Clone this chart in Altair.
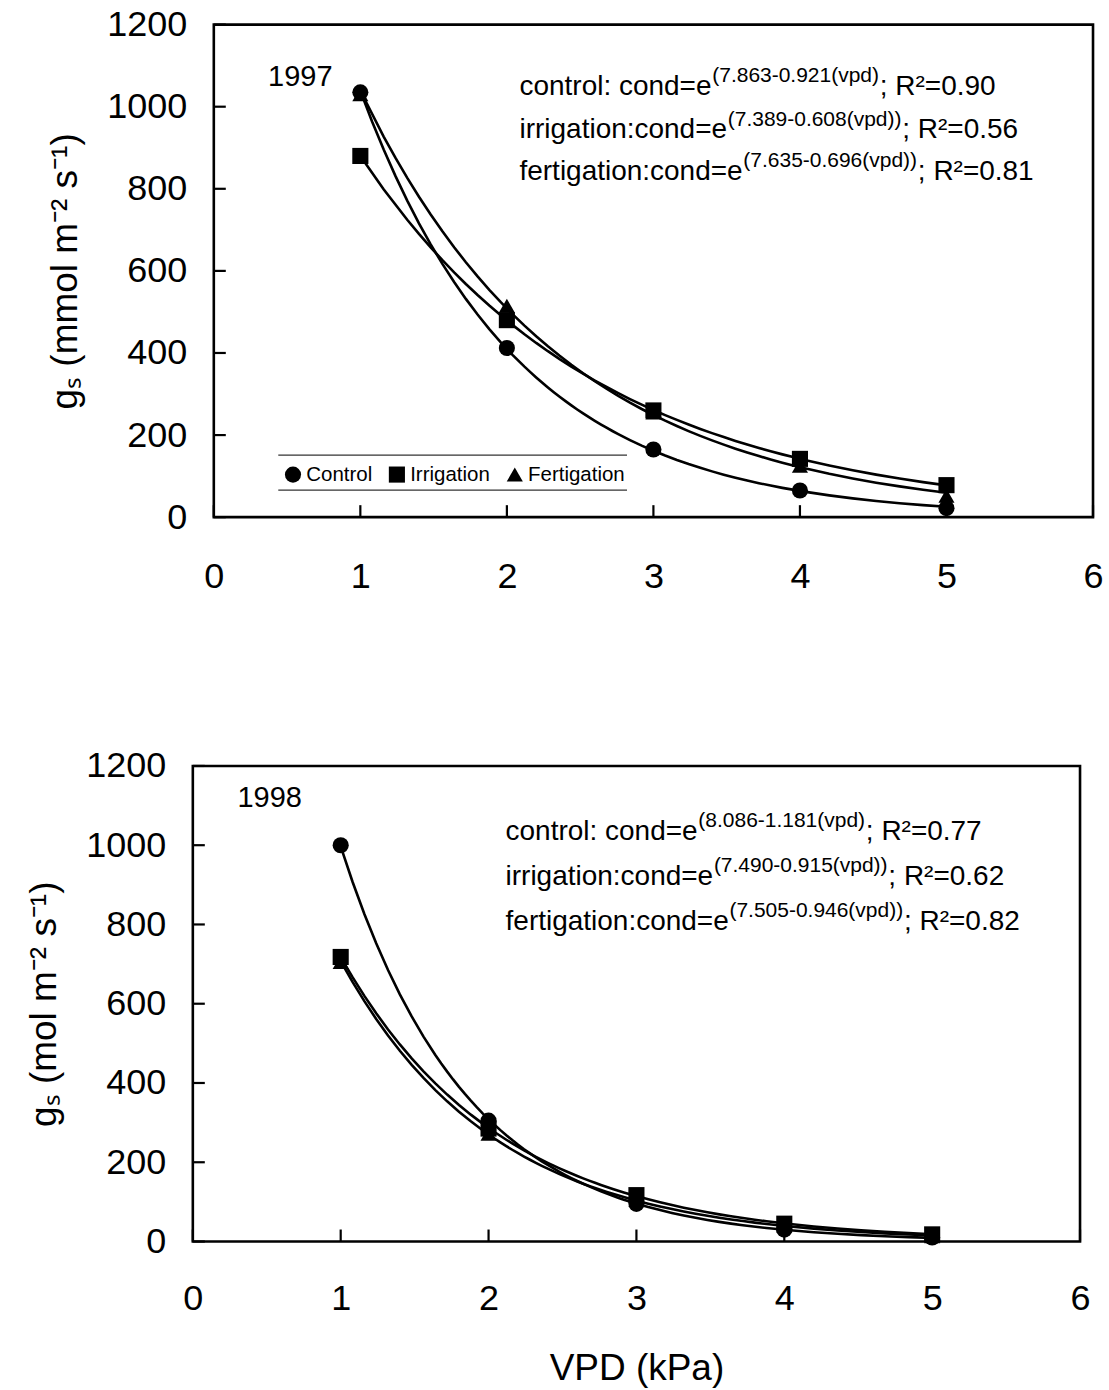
import altair as alt
import pandas as pd

# ---------------- data ----------------
VPD = [1, 2, 3, 4, 5]
TREATMENTS = ["Control", "Irrigation", "Fertigation"]
SHAPES = ["circle", "square", "triangle-up"]

GS_1997_CONTROL = [1035, 412, 165, 65, 22]
GS_1997_IRRIGATION = [880, 480, 260, 142, 78]
GS_1997_FERTIGATION = [1030, 515, 255, 125, 52]

GS_1998_CONTROL = [1000, 305, 95, 30, 10]
GS_1998_IRRIGATION = [718, 285, 117, 45, 18]
GS_1998_FERTIGATION = [705, 272, 105, 40, 13]

X_TICKS = [0, 1, 2, 3, 4, 5, 6]
Y_TICKS = [0, 200, 400, 600, 800, 1000, 1200]

EQ_1997 = [
    ("control: cond=e", "(7.863-0.921(vpd)", "; R\u00b2=0.90"),
    ("irrigation:cond=e", "(7.389-0.608(vpd))", "; R\u00b2=0.56"),
    ("fertigation:cond=e", "(7.635-0.696(vpd))", "; R\u00b2=0.81"),
]
EQ_1998 = [
    ("control: cond=e", "(8.086-1.181(vpd)", "; R\u00b2=0.77"),
    ("irrigation:cond=e", "(7.490-0.915(vpd))", "; R\u00b2=0.62"),
    ("fertigation:cond=e", "(7.505-0.946(vpd))", "; R\u00b2=0.82"),
]

FONT = "Liberation Sans"
MAIN_FS = 28
SUP_FS = 21

# Arial / Liberation Sans advance widths (per 1000 em)
AW = {' ': 278, ':': 278, ';': 278, '=': 584, '(': 333, ')': 333, '.': 278, '-': 333,
      '\u00b2': 333, 'R': 722, 'a': 556, 'c': 500, 'd': 556, 'e': 556, 'f': 278, 'g': 556,
      'i': 222, 'l': 222, 'n': 556, 'o': 556, 'p': 556, 'r': 333, 't': 278, 'v': 500}


def text_width(s, fs):
    return sum(AW.get(ch, 556) for ch in s) * fs / 1000.0


def series_frame(ctrl, irr, fert):
    rows = []
    for name, vals in zip(TREATMENTS, [ctrl, irr, fert]):
        for x, y in zip(VPD, vals):
            rows.append({"vpd": x, "gs": y, "treatment": name})
    return pd.DataFrame(rows)


def equation_frame(eqs, x0, ys, px_per_unit):
    rows = []
    for (a, b, c), y in zip(eqs, ys):
        wa = text_width(a, MAIN_FS) / px_per_unit
        wb = text_width(b, SUP_FS) / px_per_unit
        rows.append({"vpd": x0, "gs": y, "t": a, "kind": "main"})
        rows.append({"vpd": x0 + wa + 0.005, "gs": y, "t": b, "kind": "sup"})
        rows.append({"vpd": x0 + wa + wb + 0.01, "gs": y, "t": c, "kind": "main"})
    return pd.DataFrame(rows)


def panel(df, eqs, eq_x0, eq_ys, year, year_xy, frame_width, height, ytitle,
          xtitle, x_label_pad, show_legend, left_shift_px=0):
    ppu = frame_width / 6.0
    x_min = -left_shift_px / ppu
    width = frame_width + left_shift_px
    xs = alt.Scale(domain=[x_min, 6], nice=False, zero=False)
    ys = alt.Scale(domain=[0, 1200], nice=False, zero=False)
    xaxis = alt.Axis(values=X_TICKS, format="d", labelPadding=x_label_pad, labelFlush=False,
                     labelOverlap=False, title=xtitle, titlePadding=34)
    yaxis = alt.Axis(values=Y_TICKS, format="d", labelPadding=27 - left_shift_px,
                     labelFlush=False, labelOverlap=False, title=ytitle, titlePadding=22)

    base = alt.Chart(df)
    lines = base.transform_regression(
        "vpd", "gs", method="exp", groupby=["treatment"]
    ).mark_line(color="black", strokeWidth=2.6).encode(
        x=alt.X("vpd:Q", scale=xs, axis=xaxis),
        y=alt.Y("gs:Q", scale=ys, axis=yaxis),
        detail="treatment:N",
    )
    if show_legend:
        legend = alt.Legend(
            title=None, orient="none", legendX=90 + left_shift_px - 21, legendY=440,
            direction="horizontal",
            labelFont=FONT, labelFontSize=20.5, labelColor="black", symbolSize=260,
            symbolFillColor="black", symbolStrokeColor="black", symbolStrokeWidth=0,
            labelOffset=3, columnPadding=14, padding=0, symbolOpacity=1,
        )
    else:
        legend = None
    points = base.mark_point(filled=True, color="black", size=260, opacity=1).encode(
        x=alt.X("vpd:Q", scale=xs),
        y=alt.Y("gs:Q", scale=ys),
        shape=alt.Shape("treatment:N", scale=alt.Scale(domain=TREATMENTS, range=SHAPES),
                        legend=legend),
    )

    one = pd.DataFrame({"a": [0]})
    frame = alt.Chart(one).mark_rect(fillOpacity=0, stroke="black", strokeWidth=2.6).encode(
        x=alt.X(datum=0, scale=xs), x2=alt.X2(datum=6),
        y=alt.Y(datum=0, scale=ys), y2=alt.Y2(datum=1200))

    yt = alt.Chart(pd.DataFrame({"gs": Y_TICKS})).mark_rule(
        color="black", strokeWidth=2.2).encode(
        y=alt.Y("gs:Q", scale=ys), x=alt.X(datum=0, scale=xs), x2=alt.X2(datum=12 / ppu))
    xt = alt.Chart(pd.DataFrame({"vpd": X_TICKS})).mark_rule(
        color="black", strokeWidth=2.2).encode(
        x=alt.X("vpd:Q", scale=xs), y=alt.value(height), y2=alt.value(height - 12))

    eqdf = equation_frame(eqs, eq_x0, eq_ys, ppu)
    eq_main = alt.Chart(eqdf[eqdf.kind == "main"]).mark_text(
        align="left", baseline="middle", font=FONT, fontSize=MAIN_FS, color="black").encode(
        x=alt.X("vpd:Q", scale=xs), y=alt.Y("gs:Q", scale=ys), text="t:N")
    eq_sup = alt.Chart(eqdf[eqdf.kind == "sup"]).mark_text(
        align="left", baseline="middle", font=FONT, fontSize=SUP_FS, color="black",
        dy=-11).encode(
        x=alt.X("vpd:Q", scale=xs), y=alt.Y("gs:Q", scale=ys), text="t:N")

    yr = alt.Chart(pd.DataFrame({"vpd": [year_xy[0]], "gs": [year_xy[1]], "t": [year]})).mark_text(
        align="center", baseline="middle", font=FONT, fontSize=29, color="black").encode(
        x=alt.X("vpd:Q", scale=xs), y=alt.Y("gs:Q", scale=ys), text="t:N")

    layers = [frame, lines, points, yt, xt, eq_main, eq_sup, yr]

    if show_legend:
        # thin lines above and below the legend box
        lg = pd.DataFrame({"vpd": [0.44, 0.44], "vpd2": [2.82, 2.82], "gs": [151, 66]})
        lrules = alt.Chart(lg).mark_rule(color="#333333", strokeWidth=1.3).encode(
            x=alt.X("vpd:Q", scale=xs), x2="vpd2:Q", y=alt.Y("gs:Q", scale=ys))
        layers.append(lrules)

    return alt.layer(*layers).properties(width=width, height=height)


top = panel(series_frame(GS_1997_CONTROL, GS_1997_IRRIGATION, GS_1997_FERTIGATION),
            EQ_1997, 2.086, [1047, 942, 840], "1997", (0.59, 1073), 880, 493,
            "g\u209b (mmol m\u207b\u00b2 s\u207b\u00b9)", None, 42, True, left_shift_px=21)
bottom = panel(series_frame(GS_1998_CONTROL, GS_1998_IRRIGATION, GS_1998_FERTIGATION),
               EQ_1998, 2.115, [1034, 920, 807], "1998", (0.52, 1118), 888, 476,
               "g\u209b (mol m\u207b\u00b2 s\u207b\u00b9)", "VPD (kPa)", 40, False)

chart = alt.vconcat(top, bottom, spacing=152).resolve_scale(
    shape="independent").resolve_legend(shape="independent").properties(
    padding={"left": 25, "top": 5, "right": 5, "bottom": 5}, background="white"
).configure_view(stroke="transparent").configure_axis(
    domain=False, ticks=False, grid=False, labelFont=FONT, labelFontSize=36,
    labelColor="black", titleFont=FONT, titleFontSize=37, titleColor="black",
    titleFontWeight="normal"
)

chart.save("out.html", embed_options={"renderer": "svg", "actions": False})
